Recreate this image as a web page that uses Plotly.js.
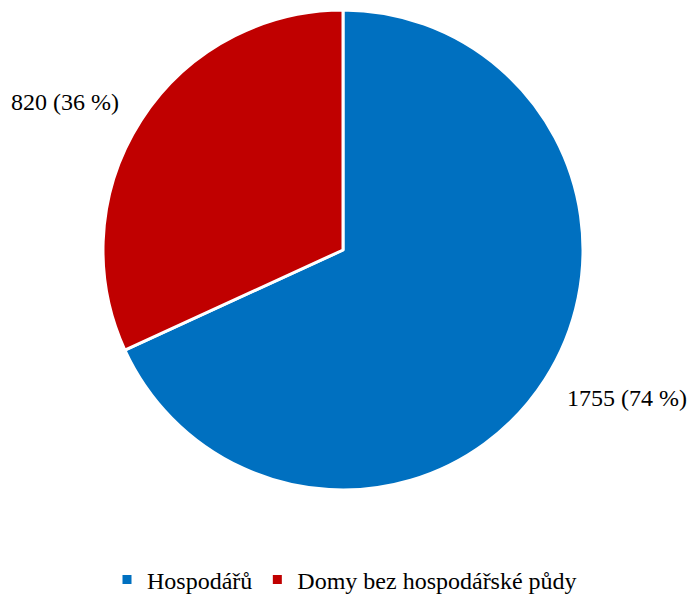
<!DOCTYPE html>
<html>
<head>
<meta charset="utf-8">
<script src="https://cdn.plot.ly/plotly-3.0.1.min.js"></script>
<style>html,body{margin:0;padding:0;background:#fff;}#chart{width:689px;height:594px;}</style>
</head>
<body>
<div id="chart"></div>
<script>
const categories = ["Hospodářů", "Domy bez hospodářské půdy"];
const values = [1755, 820];
const percentLabels = ["74 %", "36 %"];
const colors = ["#0070C0", "#C00000"];

const W = 689, H = 594, MB = 44;
const PH = H - MB;
const cx = 343, cy = 250, R = 240;
const FONT = "Liberation Serif";

const trace = {
  type: "pie",
  labels: categories,
  values: values,
  textinfo: "none",
  sort: false,
  direction: "clockwise",
  rotation: 0,
  marker: { colors: colors, line: { color: "#ffffff", width: 3 } },
  domain: { x: [(cx - R) / W, (cx + R) / W], y: [1 - (cy + R) / PH, 1 - (cy - R) / PH] },
  hoverinfo: "label+value"
};

// data labels placed outside each slice at its mid-angle
const total = values.reduce((a, b) => a + b, 0);
let cum = 0;
const annotations = values.map((v, i) => {
  const mid = (cum + v / 2) / total;
  cum += v;
  const th = 2 * Math.PI * mid;
  const dx = Math.sin(th), dy = -Math.cos(th);
  const px = cx + 1.10 * R * dx, py = cy + 1.14 * R * dy;
  return {
    xref: "paper", yref: "paper",
    x: px / W, y: 1 - py / PH,
    xanchor: dx > 0 ? "left" : "right", yanchor: "middle",
    text: v + " (" + percentLabels[i] + ")",
    showarrow: false,
    font: { family: FONT, size: 24, color: "#000000" }
  };
});

const layout = {
  width: W,
  height: H,
  margin: { l: 0, r: 0, t: 0, b: MB },
  paper_bgcolor: "#ffffff",
  font: { family: FONT, size: 24, color: "#000000" },
  showlegend: true,
  annotations: annotations,
  legend: {
    orientation: "h",
    x: 0.5, xanchor: "center",
    yref: "container",
    y: 1 - 580 / H, yanchor: "middle",
    font: { family: FONT, size: 24, color: "#000000" },
    itemwidth: 30,
    traceorder: "normal"
  }
};

Plotly.newPlot("chart", [trace], layout, { displayModeBar: false, staticPlot: true });
</script>
</body>
</html>
